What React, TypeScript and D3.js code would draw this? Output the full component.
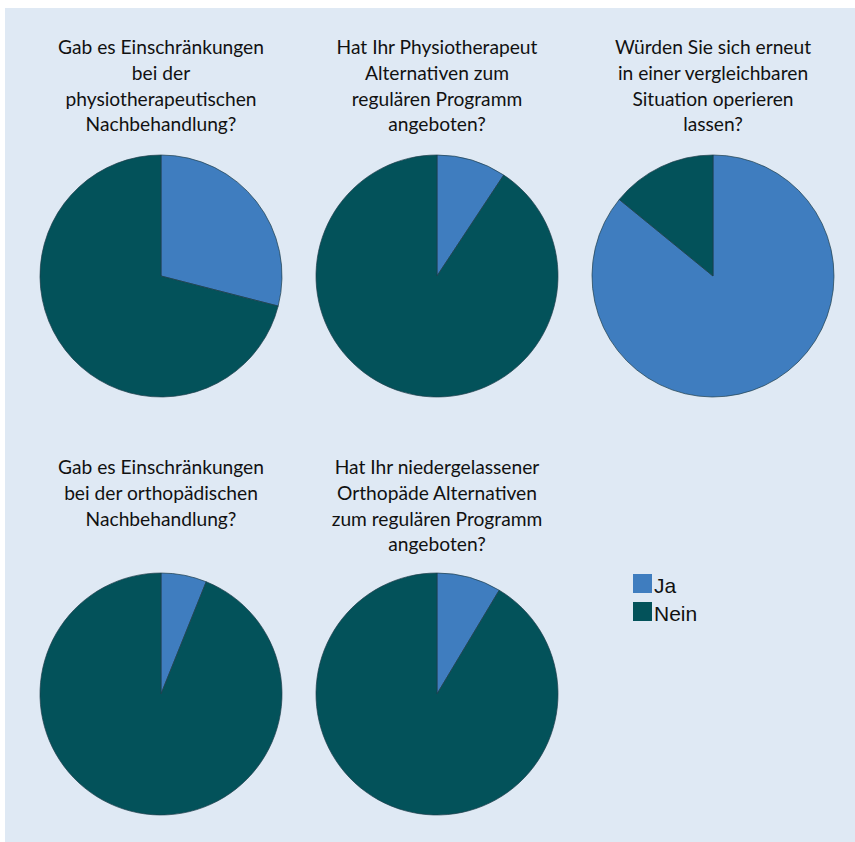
import React from "react";
import * as d3 from "d3";

const categories = ["Ja", "Nein"];
const titles = [
  ["Gab es Einschränkungen", "bei der", "physiotherapeutischen", "Nachbehandlung?"],
  ["Hat Ihr Physiotherapeut", "Alternativen zum", "regulären Programm", "angeboten?"],
  ["Würden Sie sich erneut", "in einer vergleichbaren", "Situation operieren", "lassen?"],
  ["Gab es Einschränkungen", "bei der orthopädischen", "Nachbehandlung?"],
  ["Hat Ihr niedergelassener", "Orthopäde Alternativen", "zum regulären Programm", "angeboten?"],
];
const jaValues = [29.0, 9.3, 85.9, 6.1, 8.6];
const neinValues = [71.0, 90.7, 14.1, 93.9, 91.4];

const colors = ["#3f7dbf", "#03525a"];
const W = 855, H = 842;

export default function App() {
  const pie = d3.pie<number>().sort(null).value((d) => d);
  const arc = d3.arc<d3.PieArcDatum<number>>().innerRadius(0).outerRadius(121);
  const cx = d3.scalePoint<number>().domain([0, 1, 2]).range([161, 713]);
  const rowY = [276, 694];
  const titleY = [54, 474];
  return (
    <svg width={W} height={H} style={{ position: "absolute", left: 0, top: 0 }}>
      <rect x={5} y={8} width={W - 5} height={H - 8} fill="#dfe9f4" />
      {jaValues.map((ja, i) => {
        const col = i % 3;
        const row = Math.floor(i / 3);
        const x = cx(col)!;
        const y = rowY[row];
        const arcs = pie([ja, neinValues[i]]);
        return (
          <g key={i}>
            <text
              x={x}
              y={titleY[row]}
              textAnchor="middle"
              fontFamily="Lato, 'Open Sans', sans-serif"
              fontSize={19.2}
              fill="#111"
            >
              {titles[i].map((t, k) => (
                <tspan key={k} x={x} y={titleY[row] + k * 25.8}>
                  {t}
                </tspan>
              ))}
            </text>
            <g transform={`translate(${x},${y})`}>
              {arcs.map((a, k) => (
                <path key={k} d={arc(a)!} fill={colors[k]} stroke="#1e3d4a" strokeWidth={0.7} />
              ))}
            </g>
          </g>
        );
      })}
      <g transform="translate(633,574)">
        {categories.map((c, k) => (
          <g key={c} transform={`translate(0,${k * 28})`}>
            <rect width={19} height={19} fill={colors[k]} />
            <text x={21} y={19} fontFamily="'Liberation Sans', Arial, sans-serif" fontSize={21} fill="#111">
              {c}
            </text>
          </g>
        ))}
      </g>
    </svg>
  );
}
